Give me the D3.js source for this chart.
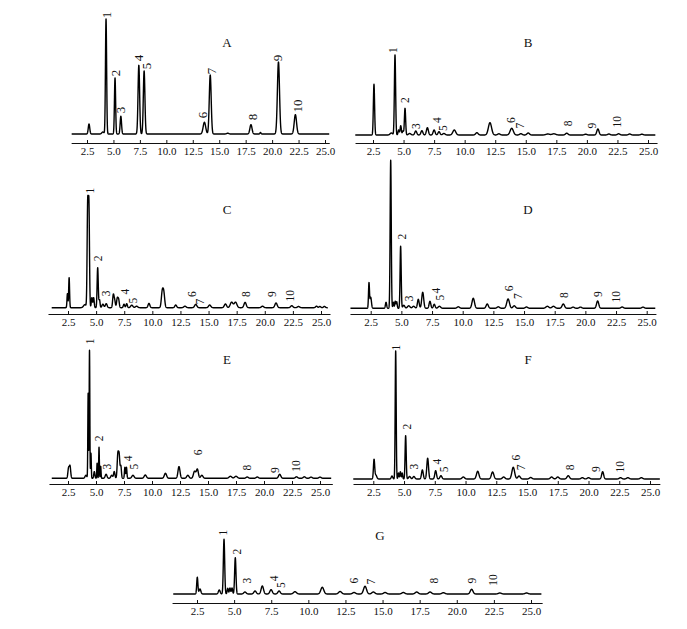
<!DOCTYPE html>
<html><head><meta charset="utf-8">
<script src="https://cdn.jsdelivr.net/npm/d3@7/dist/d3.min.js"></script>
<style>
html,body{margin:0;padding:0;background:#fff;}
svg{display:block;font-family:"Liberation Serif","Times New Roman",serif;}
</style></head>
<body>
<svg id="chart" width="687" height="629"></svg>
<script>
// ---------- DATA ----------
const panelNames = ["A","B","C","D","E","F","G"];
const tickValues = [2.5,5.0,7.5,10.0,12.5,15.0,17.5,20.0,22.5,25.0];
const peakNames = ["1","2","3","4","5","6","7","8","9","10"];

// peaks: [retention time (min), intensity, width sigma (min)]
const peaksA = [[2.69,10,0.07],[4.0,2,0.1],[4.3,115,0.055],[5.15,56,0.055],[5.7,17.7,0.065],
  [7.4,68.7,0.075],[7.9,63,0.075],[13.6,11.7,0.12],[14.15,59,0.09],[15.8,0.8,0.1],
  [18.0,9.3,0.1],[18.9,1.5,0.05],[20.6,72,0.1],[22.2,19.3,0.11]];
const peaksB = [[2.58,50.7,0.05],[4.0,2,0.1],[4.3,80,0.05],[4.6,5,0.05],[4.77,9.3,0.05],[4.95,4,0.05],
  [5.12,26.7,0.05],[5.5,1.5,0.1],[6.0,4,0.08],[6.5,4.3,0.08],[6.95,7.3,0.08],[7.5,5,0.08],[7.9,3.3,0.08],
  [8.3,1.5,0.1],[9.15,5,0.12],[11.0,2.3,0.1],[12.07,12.3,0.13],[12.8,1.2,0.1],[13.85,6.7,0.13],
  [14.6,1.3,0.1],[15.2,2,0.1],[16.8,1,0.15],[17.3,1.2,0.15],[18.35,1.8,0.1],[19.9,0.8,0.1],
  [20.9,6,0.09],[21.8,1,0.1],[22.6,1.2,0.1],[23.5,1,0.1],[24.5,0.8,0.1]];
const peaksC = [[2.45,14,0.04],[2.6,30,0.04],[4.0,3,0.12],[4.25,100,0.05],[4.36,100,0.05],[4.62,10,0.05],
  [4.78,10,0.05],[5.14,40,0.05],[5.3,8,0.05],[5.6,3.5,0.08],[5.9,4,0.08],[6.53,12.7,0.06],[6.65,7,0.06],
  [6.88,9,0.06],[7.0,8,0.06],[7.48,3.5,0.06],[7.72,4,0.06],[8.17,2.5,0.1],[8.6,1.5,0.1],[9.7,4.3,0.08],
  [10.88,15,0.08],[11.02,14,0.08],[12.08,2.7,0.08],[12.9,1.5,0.1],[13.86,3.3,0.1],[15.1,2.7,0.1],
  [16.5,3.7,0.1],[17.05,5.5,0.12],[17.4,5.5,0.12],[18.25,5.3,0.1],[19.8,1.5,0.1],[21.0,4.7,0.1],
  [22.4,2,0.1],[23.0,1.2,0.1],[24.6,1.5,0.08],[24.9,1.2,0.08],[25.3,1.3,0.08]];
const peaksD = [[2.36,25,0.04],[2.5,11,0.06],[3.75,6,0.05],[4.13,148,0.045],[4.35,6,0.04],[4.5,7,0.04],
  [4.62,6.5,0.04],[4.94,62,0.045],[5.2,3,0.08],[5.6,2.5,0.1],[6.0,2,0.1],[6.38,9,0.07],[6.74,16,0.08],
  [7.33,7,0.07],[7.68,4,0.07],[8.1,2,0.1],[9.64,1.5,0.1],[10.86,10,0.1],[12.0,4.3,0.09],[12.9,1.5,0.1],
  [13.7,9.3,0.11],[14.2,2.5,0.1],[15.2,1.3,0.1],[16.9,2,0.12],[17.4,2,0.12],[18.2,4.3,0.1],
  [19.0,1.2,0.1],[19.6,1.2,0.1],[21.0,7.3,0.09],[23.0,1.3,0.1],[24.7,1.2,0.1]];
const peaksE = [[2.55,10,0.06],[2.68,12,0.06],[4.1,3,0.08],[4.3,85,0.03],[4.42,128,0.03],[4.55,25,0.03],
  [4.85,6.7,0.05],[5.1,15,0.03],[5.27,31,0.03],[5.42,12,0.03],[5.9,4,0.08],[6.4,3,0.08],[6.63,6.7,0.06],
  [6.95,23,0.06],[7.07,22,0.06],[7.22,12,0.05],[7.58,11,0.04],[7.72,11,0.04],[8.3,3,0.1],[9.4,3.3,0.1],
  [11.2,5,0.1],[12.41,11.7,0.09],[13.2,3,0.1],[13.8,7,0.1],[14.05,9,0.09],[14.45,3,0.1],[17.0,2,0.12],
  [17.5,2,0.12],[18.5,1.3,0.1],[19.4,1.3,0.1],[21.4,4,0.1],[22.9,1.5,0.1],[23.6,1.5,0.1],[24.2,1.2,0.1],
  [25.0,1.2,0.1]];
const peaksF = [[2.56,19,0.05],[2.7,4,0.08],[4.02,3,0.06],[4.32,128,0.04],[4.55,6,0.04],[4.7,7.3,0.04],
  [4.85,6,0.04],[5.13,43.3,0.045],[5.45,2.5,0.08],[5.8,2.5,0.08],[6.49,9,0.07],[6.92,20.7,0.07],
  [7.57,8.3,0.07],[8.0,3.3,0.08],[9.82,2,0.1],[10.99,7.7,0.1],[12.2,7,0.1],[13.1,2,0.1],[13.88,11.7,0.11],
  [14.35,3,0.1],[15.3,1.5,0.1],[17.0,2,0.1],[17.5,2,0.1],[18.35,3.3,0.1],[19.5,1.3,0.1],[20.0,1.3,0.1],
  [21.15,7.3,0.08],[22.6,1.3,0.1],[23.2,1.3,0.1],[24.3,1.3,0.1]];
const peaksG = [[2.52,16.7,0.04],[2.7,5,0.06],[4.0,4,0.06],[4.32,54.7,0.045],[4.57,5.7,0.04],[4.72,6,0.04],
  [4.86,6,0.04],[5.08,36.3,0.045],[5.73,2,0.08],[6.41,3,0.08],[6.9,8,0.08],[7.49,4.3,0.08],[8.03,3,0.08],
  [9.1,2.3,0.1],[10.94,6.7,0.1],[12.14,2.5,0.1],[13.08,1.5,0.1],[13.82,7.7,0.1],[14.38,2,0.1],
  [15.17,1.5,0.1],[16.4,1.5,0.1],[17.3,2,0.1],[18.2,2,0.1],[19.1,1.3,0.1],[21.0,4.7,0.09],
  [22.9,1,0.1],[24.7,1,0.1]];

// peak-number labels: [time, intensity] for labels 1..10 (null = not labelled)
const labelsA = [[4.36,119],[5.15,61],[5.71,24],[7.41,76],[8.08,68],[13.46,19],[14.29,63],[18.1,17],[20.55,76],[22.4,28]];
const labelsB = [[4.11,85],[5.12,35],[6.02,9],[7.71,15],[8.2,7],[13.79,15],[14.53,9.3],[18.43,11.7],[20.4,9.3],[22.49,13.3]];
const labelsC = [[4.46,117],[5.2,49.4],[5.88,14.4],[7.57,16],[8.26,7],[13.5,13.7],[14.24,6],[18.31,13.7],[20.62,13.7],[22.25,12]];
const labelsD = [null,[5.03,71.6],[5.65,10],[7.8,17.6],[8.15,10.6],[13.8,20],[14.48,12.3],[18.25,13.3],[21.05,14.3],[22.49,11.6]];
const labelsE = [[4.46,137],[5.29,40],[6.01,11.6],[7.88,20],[8.42,11.6],[14.08,26],null,[18.51,10.6],[20.98,8.3],[22.86,12.3]];
const labelsF = [[4.32,131.5],[5.22,52.3],[5.81,12.3],[7.65,17.3],[8.27,9.7],[14.1,21.3],[14.51,11.7],[18.49,11.7],[20.58,10],[22.56,12.3]];
const labelsG = [[4.27,61.5],[5.18,42.3],[5.89,13.3],[7.71,15.7],[8.16,9],[13.1,13.3],[14.2,12.3],[18.49,13.3],[21.01,13.3],[22.47,14]];

// ---------- LAYOUT ----------
const panels = [
  {name:"A", peaks:peaksA, labels:labelsA, px:[87,325], axis:[1.0,25.4], trace:[1.05,25.4], base:134, axisY:143, title:[227,42], lf:13, tf:11},
  {name:"B", peaks:peaksB, labels:labelsB, px:[373,648], axis:[1.03,25.74], trace:[1.05,25.6], base:135, axisY:143, title:[528,42], lf:11.5, tf:11},
  {name:"C", peaks:peaksC, labels:labelsC, px:[68,321], axis:[0.72,25.8], trace:[1.05,25.6], base:307.7, axisY:314, title:[227,209], lf:11.5, tf:11},
  {name:"D", peaks:peaksD, labels:labelsD, px:[370.7,646.7], axis:[0.81,25.75], trace:[0.85,25.7], base:308.3, axisY:314, title:[528,209], lf:11.5, tf:11},
  {name:"E", peaks:peaksE, labels:labelsE, px:[68,320], axis:[0.8,26.1], trace:[1.05,26.0], base:478.3, axisY:484, title:[227,359], lf:11.5, tf:11},
  {name:"F", peaks:peaksF, labels:labelsF, px:[373.3,650], axis:[0.85,25.8], trace:[0.87,25.8], base:479, axisY:484, title:[528,359], lf:11.5, tf:11},
  {name:"G", peaks:peaksG, labels:labelsG, px:[197,531], axis:[0.82,25.75], trace:[0.9,25.7], base:594, axisY:603, title:[380,535], lf:11.5, tf:11}
];

function signal(peaks, t0, t1){
  const pts=[];
  for(let i=0;;i++){
    const t=t0+i*0.005; if(t>t1+1e-9) break;
    let v=0;
    for(const [rt,h,w] of peaks) v+=h*Math.exp(-((t-rt)*(t-rt))/(2*w*w));
    pts.push([t,v]);
  }
  return pts;
}

const svg = d3.select("#chart");
svg.append("rect").attr("width",687).attr("height",629).attr("fill","#fff");

panels.forEach(p=>{
  const k=(p.px[1]-p.px[0])/(25-2.5);
  const xOf=t=>p.px[0]+(t-2.5)*k;
  const x=d3.scaleLinear().domain(p.axis).range([xOf(p.axis[0]),xOf(p.axis[1])]);
  const y=d3.scaleLinear().domain([0,100]).range([p.base,p.base-100]);
  const g=svg.append("g");

  const ax=g.append("g").attr("transform",`translate(0,${p.axisY})`)
    .call(d3.axisBottom(x).tickValues(tickValues).tickSizeInner(-3).tickSizeOuter(0)
      .tickPadding(4).tickFormat(d3.format(".1f")));
  ax.select(".domain").attr("stroke","#111").attr("stroke-width",1.1);
  ax.selectAll(".tick line").attr("stroke","#111");
  ax.selectAll(".tick text").attr("fill","#111").style("font-size",p.tf+"px")
    .style("font-family","'Liberation Serif','Times New Roman',serif");

  const line=d3.line().x(d=>x(d[0])).y(d=>y(d[1]));
  g.append("path").datum(signal(p.peaks,p.trace[0],p.trace[1]))
    .attr("d",line).attr("fill","none").attr("stroke","#000").attr("stroke-width",1.4)
    .attr("stroke-linejoin","round");

  p.labels.forEach((lb,i)=>{
    if(!lb) return;
    g.append("text").attr("transform",`translate(${x(lb[0])},${y(lb[1])}) rotate(-90)`)
      .attr("text-anchor","middle").attr("dominant-baseline","central")
      .style("font-size",p.lf+"px").attr("fill","#111").text(peakNames[i]);
  });

  g.append("text").attr("x",p.title[0]).attr("y",p.title[1]).attr("text-anchor","middle")
    .attr("dominant-baseline","central").style("font-size","13px").attr("fill","#111").text(p.name);
});
</script>
</body></html>
